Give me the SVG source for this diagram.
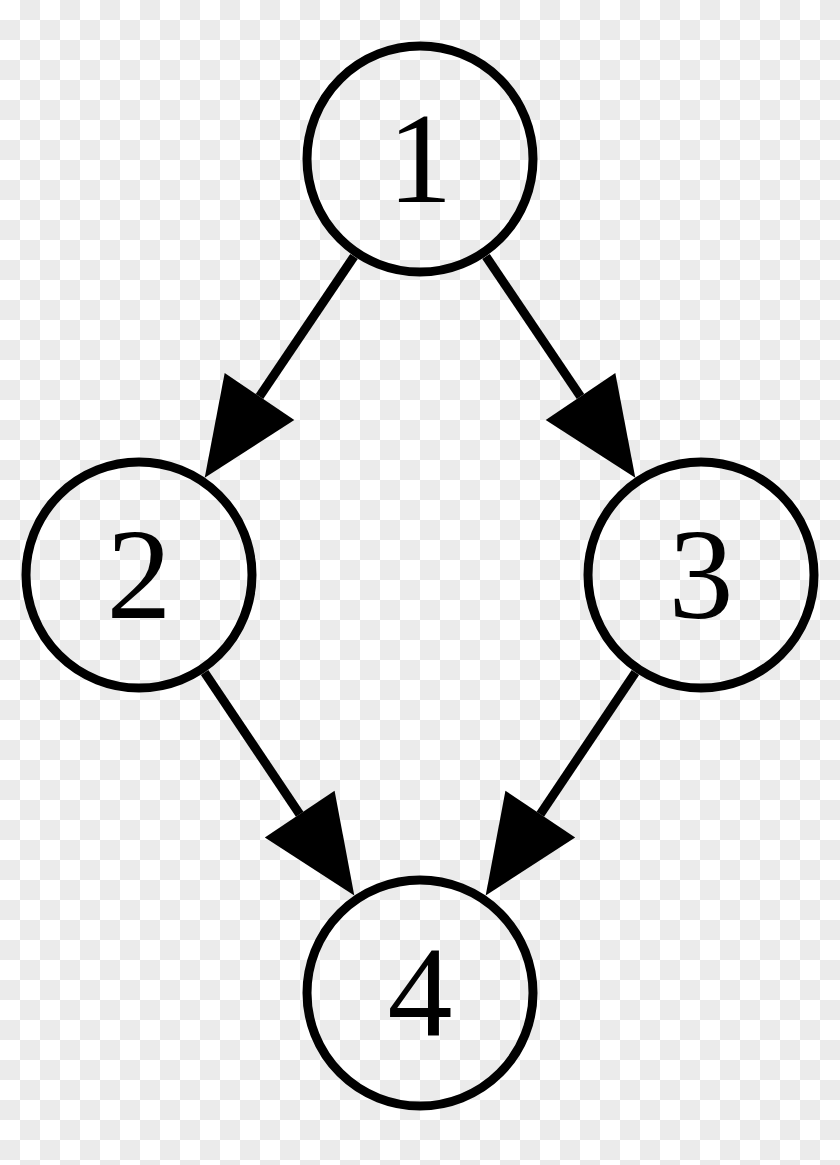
<svg xmlns="http://www.w3.org/2000/svg" width="840" height="1165" viewBox="0 0 840 1165">
  <style>
    .node circle { fill: none; stroke: #000; stroke-width: 9; }
    .node text { font-family: "Liberation Serif", "Times New Roman", serif; font-size: 130px; fill: #000; text-anchor: middle; }
    .edge { stroke: #000; stroke-width: 9; fill: none; marker-end: url(#arrow); }
  </style>
  <defs>
    <pattern id="checker" x="0" y="0" width="40" height="40" patternUnits="userSpaceOnUse">
      <rect x="0" y="0" width="40" height="40" fill="#ffffff"/>
      <rect x="20" y="0" width="20" height="20" fill="#ebebeb"/>
      <rect x="0" y="20" width="20" height="20" fill="#ebebeb"/>
    </pattern>
    <marker id="arrow" markerUnits="userSpaceOnUse" markerWidth="100" markerHeight="90" refX="0" refY="42" orient="auto" overflow="visible">
      <path d="M0,0 L98,42 L0,84 Z" fill="#000"/>
    </marker>
  </defs>
  <rect x="0" y="0" width="840" height="1165" fill="url(#checker)"/>
  <g id="connectors">
    <line class="edge" x1="354" y1="256.4" x2="259.5" y2="396.5"/>
    <line class="edge" x1="486" y1="256.4" x2="580.5" y2="396.5"/>
    <line class="edge" x1="204.6" y1="672.5" x2="299.7" y2="814.2"/>
    <line class="edge" x1="635.4" y1="672.5" x2="540.3" y2="814.2"/>
  </g>
  <g id="node1" class="node">
    <circle cx="420" cy="159" r="113"/>
    <text x="420" y="202">1</text>
  </g>
  <g id="node2" class="node">
    <circle cx="139" cy="575" r="113"/>
    <text x="139" y="618">2</text>
  </g>
  <g id="node3" class="node">
    <circle cx="701" cy="575" r="113"/>
    <text x="701" y="618">3</text>
  </g>
  <g id="node4" class="node">
    <circle cx="420" cy="993" r="113"/>
    <text x="420" y="1036">4</text>
  </g>
</svg>
